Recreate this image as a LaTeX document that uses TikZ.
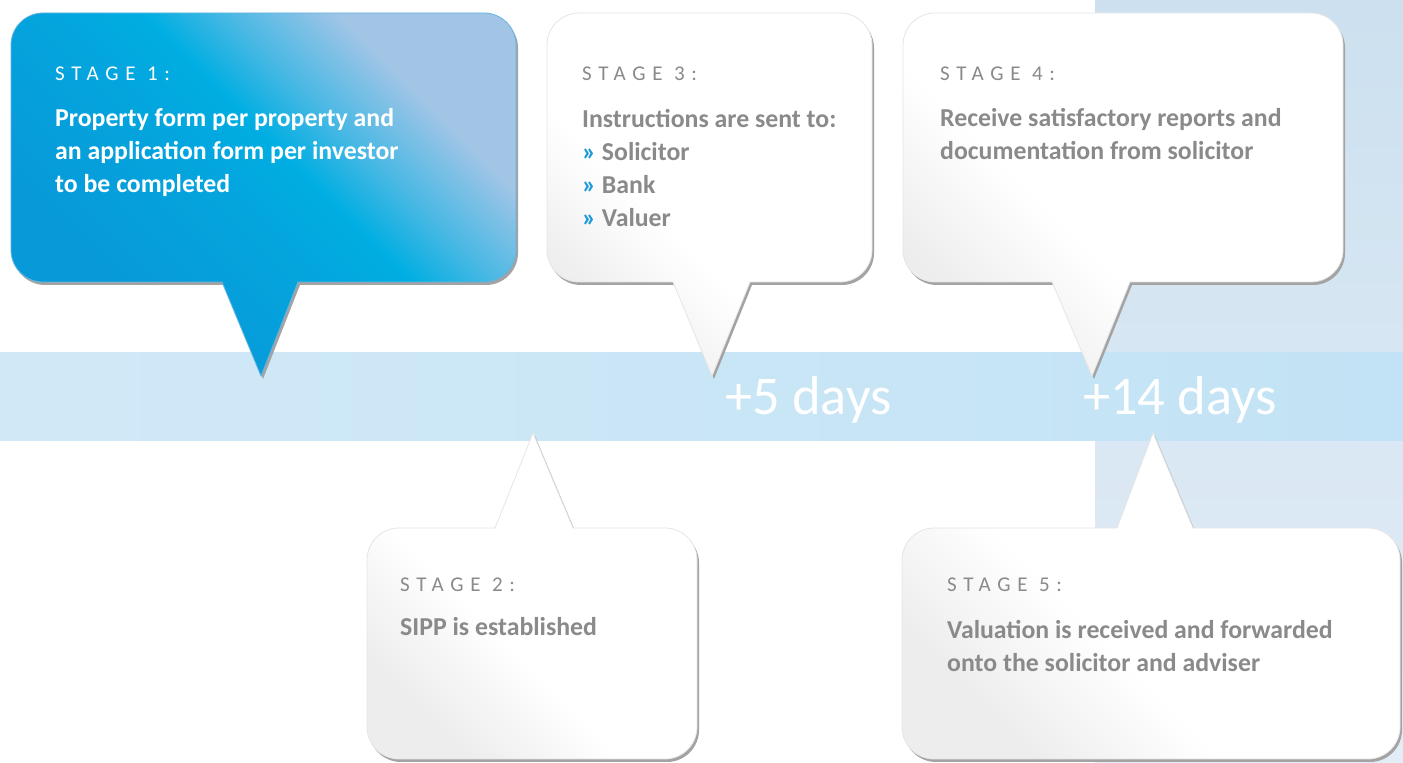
\documentclass[tikz,border=0pt]{standalone}
\usepackage{fontspec}
\setmainfont{Carlito}
\newfontfamily\stagefont[LetterSpace=32]{Carlito}
\usetikzlibrary{positioning}

\definecolor{bandleft}{HTML}{D1E9F7}
\definecolor{bandright}{HTML}{C2E3F5}
\definecolor{paneltop}{HTML}{CCE0EF}
\definecolor{panelbottom}{HTML}{E3EDF7}
\definecolor{blueA}{HTML}{0899D8}
\definecolor{blueB}{HTML}{00AEE2}
\definecolor{blueC}{HTML}{A2C5E6}
\definecolor{greytext}{HTML}{8A8A8A}
\definecolor{bulletblue}{HTML}{1B9AD7}
\definecolor{greyedge}{HTML}{EDEDED}

\pgfdeclareverticalshading{stageblue}{100bp}{color(0bp)=(blueA); color(30bp)=(blueA); color(48bp)=(blueA!40!blueB); color(55bp)=(blueB); color(61bp)=(blueB!60!blueC); color(71bp)=(blueC); color(100bp)=(blueC)}
\pgfdeclareverticalshading{stagewhite}{100bp}{color(0bp)=(greyedge); color(26bp)=(greyedge); color(42bp)=(white); color(100bp)=(white)}

% callout outlines, tail below or tail above
\newcommand{\downbubble}[8]{%
  (#5,#3) -- (#7,#8) -- (#6,#3) -- (#2-32,#3)
  arc[start angle=-90,end angle=0,radius=32pt] -- (#2,#4-32)
  arc[start angle=0,end angle=90,radius=32pt] -- (#1+32,#4)
  arc[start angle=90,end angle=180,radius=32pt] -- (#1,#3+32)
  arc[start angle=180,end angle=270,radius=32pt] -- cycle}
\newcommand{\upbubble}[8]{%
  (#5,#4) -- (#7,#8) -- (#6,#4) -- (#2-32,#4)
  arc[start angle=90,end angle=0,radius=32pt] -- (#2,#3+32)
  arc[start angle=0,end angle=-90,radius=32pt] -- (#1+32,#3)
  arc[start angle=270,end angle=180,radius=32pt] -- (#1,#4-32)
  arc[start angle=180,end angle=90,radius=32pt] -- cycle}
\newcommand{\bul}{{\color{bulletblue}»} }

\tikzset{
  band/.style={left color=bandleft,right color=bandright},
  panel/.style={top color=paneltop,bottom color=panelbottom},
  bubshadow/.style={fill=black!36,xshift=2pt,yshift=-3pt},
  whitebubble/.style={draw=black!10,line width=0.8pt,shading=stagewhite,shading angle=-45},
  bluebubble/.style={draw=blueC!60!blueA,line width=0.8pt,shading=stageblue,shading angle=-45},
  stagelabel/.style={font=\stagefont\fontsize{21}{24}\selectfont,text=greytext,inner sep=0pt,anchor=base west},
  stagetext/.style={font=\bfseries\fontsize{25.8}{33}\selectfont,text=greytext,inner sep=0pt,anchor=base west,align=left},
  days/.style={font=\fontsize{54.5}{60}\selectfont,text=white,inner sep=0pt,anchor=base west}
}

\begin{document}
\begin{tikzpicture}[x=1pt,y=1pt]
\useasboundingbox (0,0) rectangle (1403,763);
% background
\fill[panel] (1095,0) rectangle (1403,763);
\fill[band] (0,322) rectangle (1403,410);
\node[days] (day5) at (725,348) {+5 days};
\node[days] (day14) at (1083,348) {+14 days};

% stage 1
\fill[bubshadow] \downbubble{11}{516}{481}{750}{222}{298}{261}{387};
\path[bluebubble] \downbubble{11}{516}{481}{750}{222}{298}{261}{387};
\node[stagelabel,text=white] (s1label) at (55,682) {STAGE 1:};
\node[stagetext,text=white] (s1text) at (55,570) {Property form per property and\\an application form per investor\\to be completed};

% stage 3
\fill[bubshadow] \downbubble{547}{872}{481}{750}{673}{750}{712}{387};
\path[whitebubble] \downbubble{547}{872}{481}{750}{673}{750}{712}{387};
\node[stagelabel] (s3label) at (582,682) {STAGE 3:};
\node[stagetext] (s3text) at (582,536) {Instructions are sent to:\\\bul Solicitor\\\bul Bank\\\bul Valuer};

% stage 4
\fill[bubshadow] \downbubble{903}{1343}{481}{750}{1052}{1130}{1092}{387};
\path[whitebubble] \downbubble{903}{1343}{481}{750}{1052}{1130}{1092}{387};
\node[stagelabel] (s4label) at (940,682) {STAGE 4:};
\node[stagetext] (s4text) at (940,603) {Receive satisfactory reports and\\documentation from solicitor};

% stage 2
\fill[bubshadow] \upbubble{367}{697}{4}{235}{495}{573}{533}{330};
\path[whitebubble] \upbubble{367}{697}{4}{235}{495}{573}{533}{330};
\node[stagelabel] (s2label) at (400,171) {STAGE 2:};
\node[stagetext] (s2text) at (400,127) {SIPP is established};

% stage 5
\fill[bubshadow] \upbubble{902}{1400}{4}{235}{1117}{1193}{1153}{330};
\path[whitebubble] \upbubble{902}{1400}{4}{235}{1117}{1193}{1153}{330};
\node[stagelabel] (s5label) at (947,171) {STAGE 5:};
\node[stagetext] (s5text) at (947,91) {Valuation is received and forwarded\\onto the solicitor and adviser};
\end{tikzpicture}
\end{document}
